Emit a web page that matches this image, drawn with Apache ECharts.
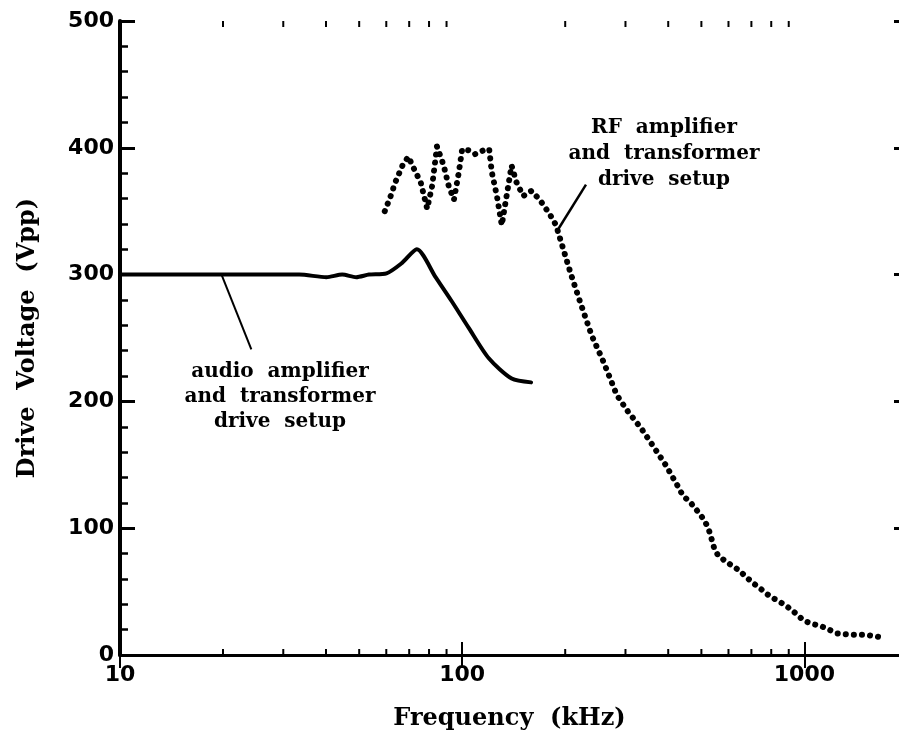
<!DOCTYPE html>
<html>
<head>
<meta charset="utf-8">
<script src="https://cdn.jsdelivr.net/npm/echarts@6/dist/echarts.min.js"></script>
<style>
  html, body { margin: 0; padding: 0; background: #fff; }
  #chart { width: 899px; height: 744px; }
</style>
</head>
<body>
<div id="chart"></div>
<script>
// Audio amplifier + transformer drive setup (solid curve)
const audioFreq = [10, 17.1, 23.9, 33.4, 40.1, 44.6, 49, 53.4, 60.1, 66.6, 73.7, 83.6, 93.2, 104.5, 119.6, 139.5, 159];
const audioVolt = [300, 300, 300, 300, 298, 300, 298, 300, 301, 309, 320, 298, 279, 258, 234, 218, 215];

// RF amplifier + transformer drive setup (dotted curve)
const rfFreq = [59.4, 61.8, 63.8, 66.9, 69.6, 73.0, 75.6, 79.0, 81.7, 84.4,
  88.3, 91.3, 94.6, 97.8, 100, 104.5, 109.1, 115.4, 119.9, 122,
  126.3, 130.5, 134.8, 139.4, 144, 150.8, 159.3, 168.5, 179.9, 188,
  208, 222, 239, 258, 283, 305, 333, 361, 393, 427,
  441, 467, 499, 520, 529, 544, 558, 587, 643, 679,
  714, 755, 795, 834, 882, 923, 959, 998, 1055, 1115,
  1180, 1247, 1364, 1508, 1674];
const rfVolt = [350, 362, 373, 386, 393, 381, 373, 352, 370, 401,
  386, 370, 359, 381, 399, 398, 395, 398, 399, 381,
  362, 339, 362, 386, 373, 362, 366, 359, 348, 339,
  300, 277, 252, 232, 205, 192, 179, 165, 150, 133,
  126, 119.5, 110, 102, 96.5, 85, 79, 74, 67, 61,
  56, 51, 46, 43, 39, 35, 31, 27, 24.5, 23,
  20, 17, 16, 16, 14];

// Axis ranges, decade ticks and minor tick positions on the log frequency axis
const freqMin = 10;
const freqMax = 1890;
const voltMin = 0;
const voltMax = 500;
const freqMajorTicks = [10, 100, 1000];
const freqMinorTicks = [20, 30, 40, 50, 60, 70, 80, 90, 200, 300, 400, 500, 600, 700, 800, 900];

// Leader lines from labels to curves: [[freq, volt], [freq, volt]]
const audioLeader = [[19.8, 300], [24.2, 241]];
const rfLeader = [[230, 371], [189, 334]];

const pairs = (xs, ys) => xs.map((x, i) => [x, ys[i]]);

const serifTitle = { fontFamily: 'DejaVu Serif', fontWeight: 'bold', fontSize: 24, color: '#000' };
const sansTick = { fontFamily: 'DejaVu Sans', fontWeight: 'bold', fontSize: 22, color: '#000' };

const chart = echarts.init(document.getElementById('chart'), null, { renderer: 'canvas' });

chart.setOption({
  animation: false,
  backgroundColor: '#fff',
  grid: { left: 120, top: 21, width: 781, height: 634, containLabel: false },
  xAxis: [
    {
      type: 'log', logBase: 10, min: freqMin, max: freqMax, position: 'bottom',
      name: 'Frequency  (kHz)', nameLocation: 'middle', nameGap: 52,
      nameTextStyle: serifTitle,
      axisLine: { lineStyle: { color: '#000', width: 3 } },
      axisTick: { inside: true, length: 13, customValues: freqMajorTicks, lineStyle: { color: '#000', width: 2 } },
      axisLabel: Object.assign({ margin: 9, customValues: freqMajorTicks, formatter: v => String(Math.round(v)) }, sansTick),
      splitLine: { show: false }
    },
    {
      type: 'log', logBase: 10, min: freqMin, max: freqMax, position: 'top',
      axisLine: { lineStyle: { color: '#000', width: 3 } },
      axisTick: { inside: true, length: 13, customValues: freqMajorTicks, lineStyle: { color: '#000', width: 2 } },
      axisLabel: { show: false },
      splitLine: { show: false }
    }
  ],
  yAxis: [
    {
      type: 'value', min: voltMin, max: voltMax, interval: 100, position: 'left',
      name: 'Drive  Voltage  (Vpp)', nameLocation: 'middle', nameGap: 80,
      nameTextStyle: serifTitle,
      axisLine: { show: true, lineStyle: { color: '#000', width: 4 } },
      axisTick: { inside: true, length: 15, lineStyle: { color: '#000', width: 3 } },
      minorTick: { show: true, splitNumber: 5, length: 8, lineStyle: { color: '#000', width: 2.5 } },
      axisLabel: Object.assign({ margin: 6 }, sansTick),
      splitLine: { show: false }
    },
    {
      type: 'value', min: voltMin, max: voltMax, interval: 100, position: 'right',
      axisLine: { show: false },
      axisTick: { show: true, inside: true, length: 5, lineStyle: { color: '#000', width: 3 } },
      axisLabel: { show: false },
      splitLine: { show: false }
    }
  ],
  series: [
    {
      name: 'audio amplifier and transformer drive setup',
      type: 'line', xAxisIndex: 0, yAxisIndex: 0,
      data: pairs(audioFreq, audioVolt),
      showSymbol: false, smooth: 0.25,
      lineStyle: { color: '#000', width: 4, cap: 'round', join: 'round' },
      markLine: {
        silent: true, symbol: 'none', label: { show: false },
        lineStyle: { color: '#000', width: 2, type: 'solid' },
        data: [[{ coord: audioLeader[0] }, { coord: audioLeader[1] }]]
      }
    },
    {
      name: 'RF amplifier and transformer drive setup',
      type: 'line', xAxisIndex: 0, yAxisIndex: 0,
      data: pairs(rfFreq, rfVolt),
      showSymbol: false,
      lineStyle: { color: '#000', width: 6, type: [0.1, 8], cap: 'round', join: 'round' },
      markLine: {
        silent: true, symbol: 'none', label: { show: false },
        lineStyle: { color: '#000', width: 2.5, type: 'solid' },
        data: [[{ coord: rfLeader[0] }, { coord: rfLeader[1] }]]
      }
    },
    {
      // minor ticks on the bottom and top frequency axes
      type: 'custom', xAxisIndex: 0, yAxisIndex: 0, silent: true,
      data: freqMinorTicks.map(f => [f]),
      renderItem: function (params, api) {
        const f = api.value(0);
        const b = api.coord([f, voltMin]);
        const t = api.coord([f, voltMax]);
        const style = { stroke: '#000', lineWidth: 2 };
        return {
          type: 'group',
          children: [
            { type: 'line', shape: { x1: b[0], y1: b[1], x2: b[0], y2: b[1] - 6 }, style },
            { type: 'line', shape: { x1: t[0], y1: t[1], x2: t[0], y2: t[1] + 6 }, style }
          ]
        };
      }
    }
  ],
  graphic: [
    {
      type: 'text', x: 280, y: 359,
      style: {
        text: 'audio  amplifier\nand  transformer\ndrive  setup',
        fontFamily: 'DejaVu Serif', fontWeight: 'bold', fontSize: 20, lineHeight: 25,
        fill: '#000', align: 'center', verticalAlign: 'top'
      }
    },
    {
      type: 'text', x: 664, y: 115,
      style: {
        text: 'RF  amplifier\nand  transformer\ndrive  setup',
        fontFamily: 'DejaVu Serif', fontWeight: 'bold', fontSize: 20, lineHeight: 26,
        fill: '#000', align: 'center', verticalAlign: 'top'
      }
    }
  ]
});
</script>
</body>
</html>
